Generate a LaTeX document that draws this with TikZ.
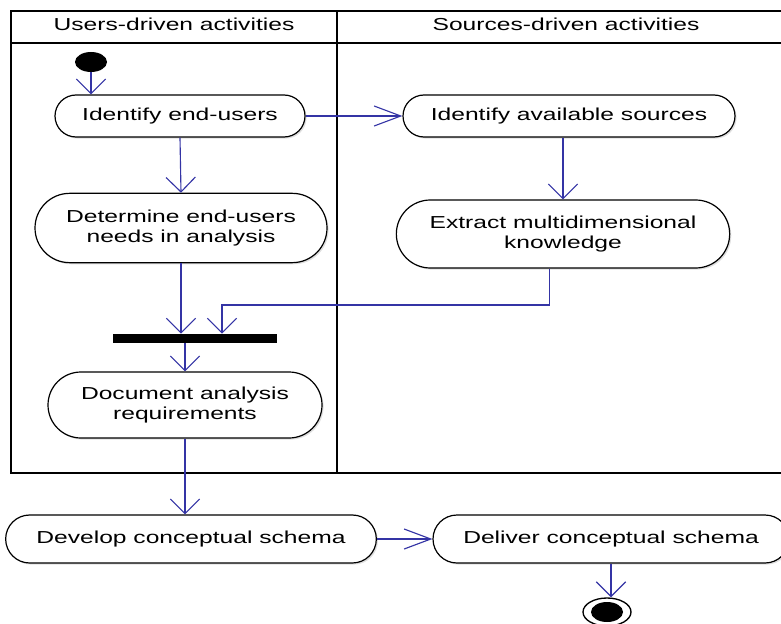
\documentclass[tikz,border=0pt]{standalone}
\usepackage{fontspec}
\usepackage{tikz}
\newfontfamily\lanefont[FakeStretch=1.42]{Liberation Sans}
\usetikzlibrary{shapes.misc}
\usetikzlibrary{shapes.geometric}
\usetikzlibrary{arrows.meta}
\usetikzlibrary{shadows}
\definecolor{flowblue}{RGB}{52,52,165}
\tikzset{activity/.style={rounded rectangle,draw=black,line width=0.9pt,fill=white,inner sep=0pt,align=center,
  drop shadow={opacity=0.25,shadow xshift=1.2pt,shadow yshift=-1.2pt}}}
\tikzset{flowv/.style={draw=flowblue,line width=0.85pt,-{Straight Barb[length=11pt,width=22pt]}}}
\tikzset{flowh/.style={draw=flowblue,line width=0.85pt,-{Straight Barb[length=20pt,width=15pt]}}}
\tikzset{lane/.style={draw=black,line width=1.3pt}}

\begin{document}
\begin{tikzpicture}[x=0.75pt,y=-0.75pt,font=\lanefont\fontsize{13}{15}\selectfont]
\useasboundingbox (0,0) rectangle (781,624);
\draw[lane] (11,11) rectangle (800,473);
\draw[lane] (11,43) -- (800,43);
\draw[lane] (337,11) -- (337,473);
\node (uhead) at (174,24) {Users-driven activities};
\node (shead) at (566,24) {Sources-driven activities};
\node[ellipse,fill=black,minimum width=24pt,minimum height=15pt,inner sep=0pt] (start) at (91,62) {};
\node[activity,minimum width=187.5pt,minimum height=31.5pt] (iden) at (180,116) {Identify end-users};
\node[activity,minimum width=249pt,minimum height=31.5pt] (srcs) at (569,116) {Identify available sources};
\node[activity,minimum width=219pt,minimum height=52pt] (needs) at (181,228) {Determine end-users\\needs in analysis};
\node[activity,minimum width=250pt,minimum height=51pt] (extr) at (563,234) {Extract multidimensional\\knowledge};
\node[fill=black,minimum width=123pt,minimum height=6.75pt,inner sep=0pt] (bar) at (195,338.5) {};
\node[activity,minimum width=205.5pt,minimum height=49.5pt] (docu) at (185,405) {Document analysis\\requirements};
\node[activity,minimum width=278pt,minimum height=36pt] (devel) at (191,539) {Develop conceptual schema};
\node[activity,minimum width=267pt,minimum height=36pt] (deliv) at (611,539) {Deliver conceptual schema};
\node[ellipse,draw=black,line width=1pt,fill=white,minimum width=36pt,minimum height=21pt,inner sep=0pt] (stop) at (607,612) {};
\fill[black] (stop.center) ellipse (12pt and 7.5pt);
\coordinate (join) at (222,305);
\draw[flowv] (start) -- (start |- iden.north);
\draw[flowh] (iden.east) -- (srcs.west);
\draw[flowv] (iden.south) -- (needs.north);
\draw[flowv] (srcs.south -| extr.north) -- (extr.north);
\draw[flowv] (needs.south) -- (needs.south |- bar.north);
\draw[flowv] ([xshift=-10pt]extr.south) |- (join) -- (join |- bar.north);
\draw[flowv] (docu.north |- bar.south) -- (docu.north);
\draw[flowv] (docu.south) -- (docu.south |- devel.north);
\draw[flowh] (devel.east) -- (deliv.west);
\draw[flowv] (deliv.south) -- (deliv.south |- stop.north);
\end{tikzpicture}
\end{document}
